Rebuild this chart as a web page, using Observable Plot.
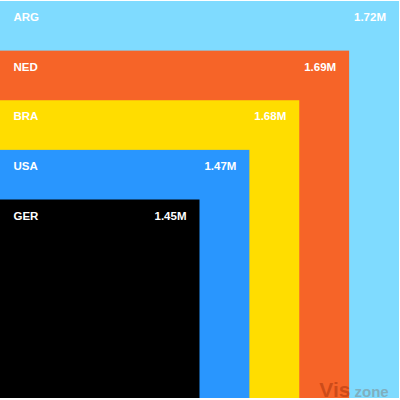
<!DOCTYPE html>
<html>
<head>
<meta charset="utf-8">
<script src="https://cdn.jsdelivr.net/npm/d3@7"></script>
<script src="https://cdn.jsdelivr.net/npm/@observablehq/plot@0.6"></script>
<style>
  html, body { margin: 0; padding: 0; background: #fff; }
  #chart svg { display: block; }
</style>
</head>
<body>
<div id="chart"></div>
<script>
const countries = ["ARG", "NED", "BRA", "USA", "GER"];
const values = [1.72, 1.69, 1.68, 1.47, 1.45]; // millions
const colors = ["#7fdbff", "#f66428", "#ffdd00", "#2996fe", "#000000"];

// square size follows rank order (largest first), base of 4 units
const data = countries.map((c, i) => ({
  country: c,
  value: values[i],
  label: values[i].toFixed(2) + "M",
  rank: countries.length + 3 - i
}));

const chart = Plot.plot({
  width: 400,
  height: 400,
  marginLeft: 0,
  marginRight: 1,
  marginTop: 1,
  marginBottom: 2,
  style: { fontFamily: "'Liberation Sans', Arial, Helvetica, sans-serif", background: "#fff" },
  x: { domain: [0, 8], axis: null },
  y: { domain: [0, 8], axis: null },
  color: { domain: countries, range: colors },
  marks: [
    Plot.rect(data, { x1: 0, x2: "rank", y1: 0, y2: "rank", fill: "country" }),
    Plot.text(data, {
      x: 0, y: "rank", text: "country", dx: 13, dy: 16,
      textAnchor: "start", fill: "white", fontWeight: "bold", fontSize: 11.5
    }),
    Plot.text(data, {
      x: "rank", y: "rank", text: "label", dx: -13.5, dy: 16,
      textAnchor: "end", fill: "white", fontWeight: "bold", fontSize: 11.5
    }),
    Plot.text(["Vis"], {
      frameAnchor: "bottom-right", text: d => d, dx: -49, dy: -2,
      textAnchor: "end", lineAnchor: "bottom", fontSize: 21, fontWeight: "bold",
      fill: "#b03a10", fillOpacity: 0.6
    }),
    Plot.text(["zone"], {
      frameAnchor: "bottom-right", text: d => d, dx: -45, dy: -2,
      textAnchor: "start", lineAnchor: "bottom", fontSize: 15, fontWeight: "bold",
      fill: "#7fa3ae", fillOpacity: 0.8
    })
  ]
});
document.getElementById("chart").appendChild(chart);
</script>
</body>
</html>
